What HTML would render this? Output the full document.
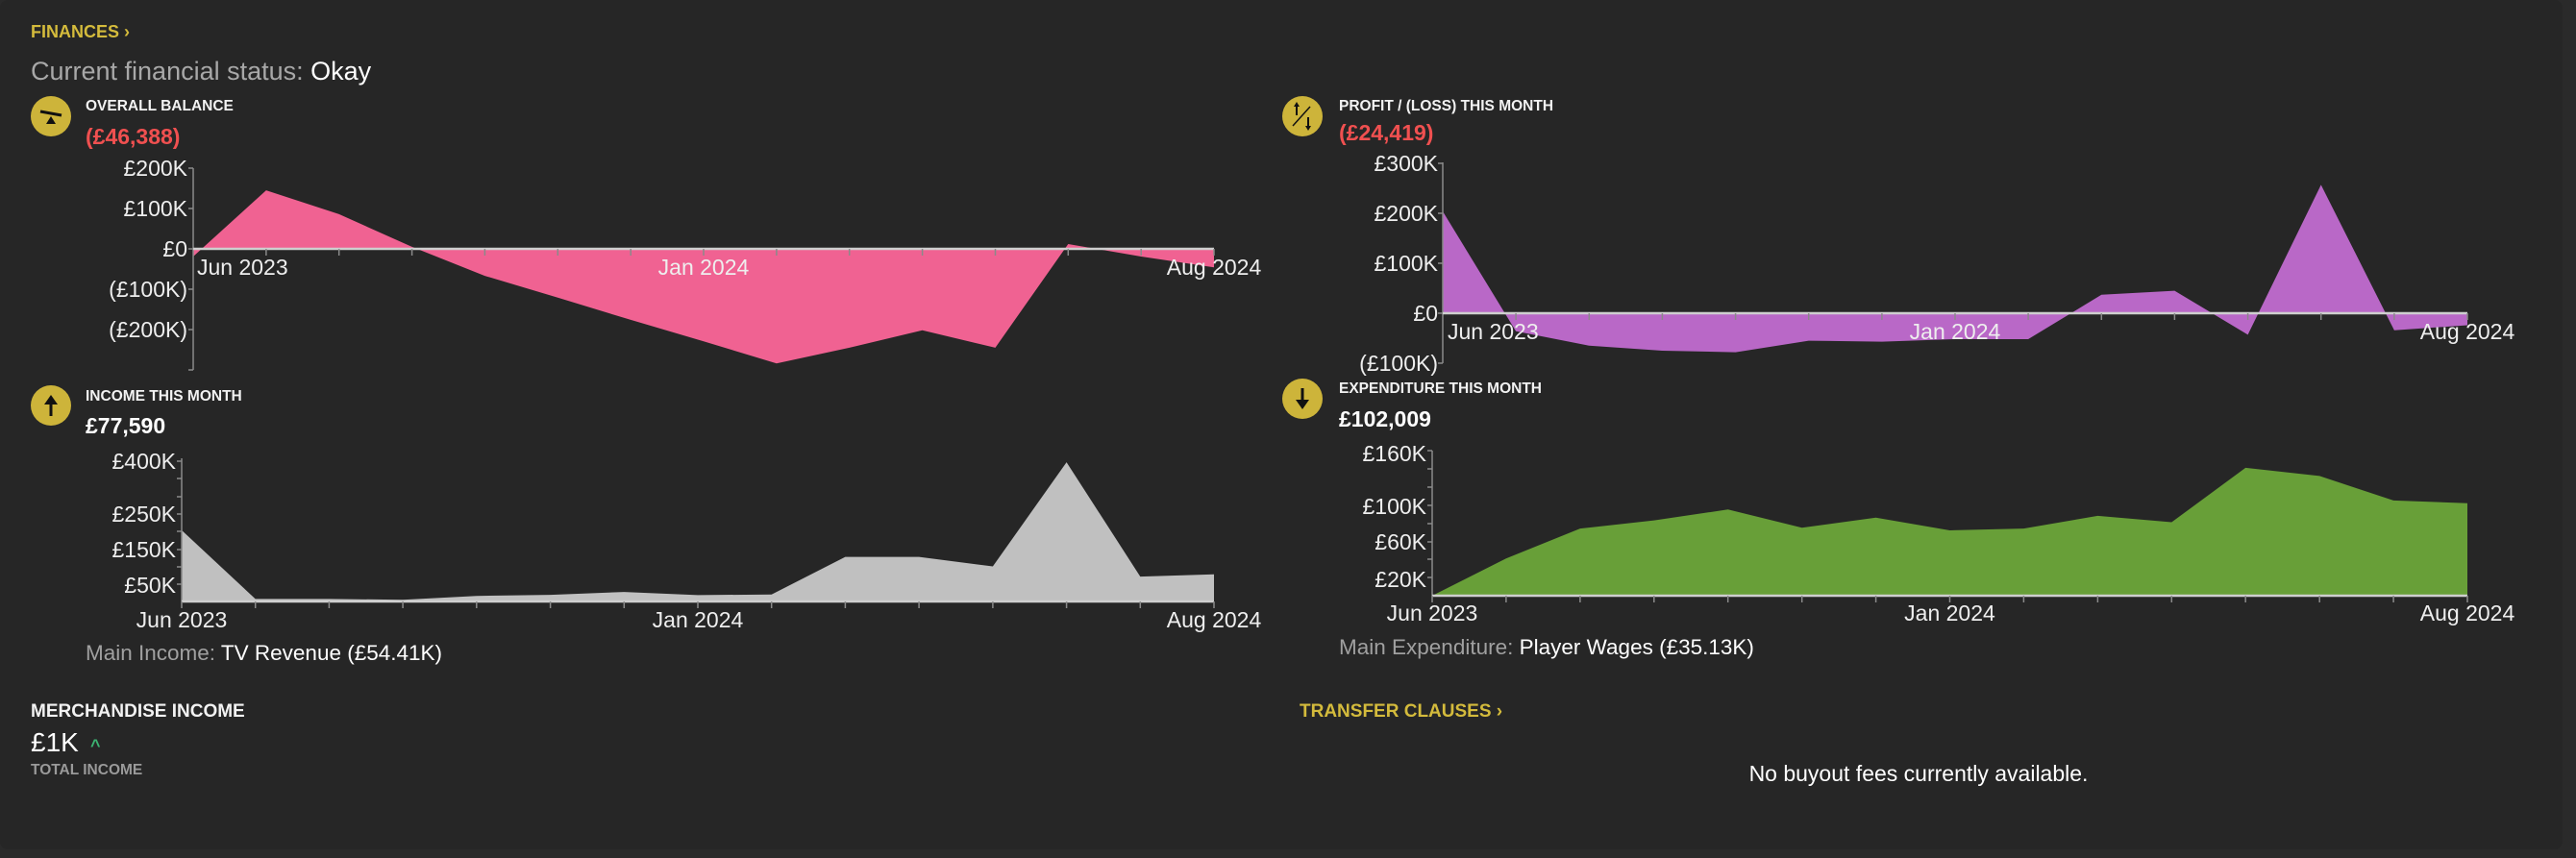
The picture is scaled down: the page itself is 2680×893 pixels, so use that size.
<!DOCTYPE html>
<html><head><meta charset="utf-8"><style>
html,body{margin:0;padding:0;background:#2a2a2a;width:2680px;height:893px;overflow:hidden}
svg{display:block}
text{font-family:"Liberation Sans",sans-serif}
.tk{fill:#eeeeee;font-size:23px}
.tt{fill:#f2f2f2;font-size:15.5px;font-weight:bold}
.ax{stroke:#8a8a8a;stroke-width:1.5;fill:none}
.zl{stroke:#cfcfcf;stroke-width:2.5}
</style></head><body>
<svg width="2680" height="893" viewBox="0 0 2680 893">
<rect x="0" y="0" width="2666" height="884" rx="8" fill="#262626"/>
<text x="32" y="39" fill="#d4bb3c" font-size="18" font-weight="bold">FINANCES ›</text>
<text x="32" y="83" font-size="27" fill="#a8a8a8">Current financial status: <tspan fill="#fff">Okay</tspan></text>

<!-- icons -->
<g fill="#cdb43a"><circle cx="53" cy="121" r="21"/><circle cx="1355" cy="121" r="21"/><circle cx="53" cy="422" r="21"/><circle cx="1355" cy="415" r="21"/></g>
<g stroke="#111" stroke-width="3" fill="#111">
<line x1="42" y1="116" x2="64" y2="120"/><polygon points="53,121 48,129 58,129" stroke="none"/>
<line x1="1345" y1="131" x2="1363" y2="111" stroke-width="1.5"/>
<line x1="1349" y1="110" x2="1349" y2="120" stroke-width="2"/><polygon points="1349,106 1346,111 1352,111" stroke="none"/>
<line x1="1361" y1="122" x2="1361" y2="132" stroke-width="2"/><polygon points="1361,136 1358,131 1364,131" stroke="none"/>
<line x1="53" y1="420" x2="53" y2="433"/><polygon points="53,411 46,421 60,421" stroke="none"/>
<line x1="1355" y1="404" x2="1355" y2="417"/><polygon points="1355,426 1348,416 1362,416" stroke="none"/>
</g>

<!-- OVERALL BALANCE -->
<text class="tt" x="89" y="115">OVERALL BALANCE</text>
<text x="89" y="150" fill="#f05050" font-size="23" font-weight="bold">(£46,388)</text>
<polygon fill="#f06292" points="201,259 201,267 276.9,198.1 352.7,222.9 428.6,256.9 504.4,287.1 580.3,309.8 656.2,332.9 732,355.2 807.9,378.3 883.7,361.9 959.6,343.8 1035.5,361.9 1111.3,254 1187.2,267 1263,278.3 1263,259"/>
<line class="ax" x1="201" y1="175" x2="201" y2="385"/>
<g class="ax"><path d="M196 175h5M196 217h5M196 259h5M196 301h5M196 343h5M196 385h5"/></g>
<line class="zl" x1="201" y1="259" x2="1263" y2="259"/>
<g class="ax"><path d="M276.9 259v7M352.7 259v7M428.6 259v7M504.4 259v7M580.3 259v7M656.2 259v7M732 259v7M807.9 259v7M883.7 259v7M959.6 259v7M1035.5 259v7M1111.3 259v7M1187.2 259v7M1263 259v7"/></g>
<g class="tk" text-anchor="end"><text x="195" y="183">£200K</text><text x="195" y="225">£100K</text><text x="195" y="267">£0</text><text x="195" y="309">(£100K)</text><text x="195" y="351">(£200K)</text></g>
<g class="tk"><text x="205" y="286">Jun 2023</text><text x="732" y="286" text-anchor="middle">Jan 2024</text><text x="1263" y="286" text-anchor="middle">Aug 2024</text></g>

<!-- PROFIT -->
<text class="tt" x="1393" y="115">PROFIT / (LOSS) THIS MONTH</text>
<text x="1393" y="146" fill="#f05050" font-size="23" font-weight="bold">(£24,419)</text>
<polygon fill="#b968c7" points="1501,326 1501,220 1577.1,344.7 1653.3,359.8 1729.4,365 1805.6,366.6 1881.7,354.6 1957.9,355.6 2034,353 2110.1,353 2186.3,306.8 2262.4,302.6 2338.6,348.4 2414.7,192.4 2490.9,343.7 2567,338.5 2567,326"/>
<line class="ax" x1="1501" y1="169" x2="1501" y2="378"/>
<g class="ax"><path d="M1496 170h5M1496 222h5M1496 274h5M1496 326h5M1496 378h5"/></g>
<line class="zl" x1="1501" y1="326" x2="2567" y2="326"/>
<g class="ax"><path d="M1577.1 326v7M1653.3 326v7M1729.4 326v7M1805.6 326v7M1881.7 326v7M1957.9 326v7M2034 326v7M2110.1 326v7M2186.3 326v7M2262.4 326v7M2338.6 326v7M2414.7 326v7M2490.9 326v7M2567 326v7"/></g>
<g class="tk" text-anchor="end"><text x="1496" y="178">£300K</text><text x="1496" y="230">£200K</text><text x="1496" y="282">£100K</text><text x="1496" y="334">£0</text><text x="1496" y="386">(£100K)</text></g>
<g class="tk"><text x="1506" y="353">Jun 2023</text><text x="2034" y="353" text-anchor="middle">Jan 2024</text><text x="2567" y="353" text-anchor="middle">Aug 2024</text></g>

<!-- INCOME -->
<text class="tt" x="89" y="417">INCOME THIS MONTH</text>
<text x="89" y="451" fill="#fff" font-size="23" font-weight="bold">£77,590</text>
<polygon fill="#c0c0c0" points="189,626 189,551.9 265.7,623.4 342.4,623.4 419.1,624.2 495.8,620.2 572.6,619.1 649.3,616.1 726,619.4 802.7,618.7 879.4,579.6 956.1,579.6 1032.9,589.5 1109.6,481.1 1186.3,600.1 1263,597.7 1263,626"/>
<line class="ax" x1="189" y1="477" x2="189" y2="626"/>
<g class="ax"><path d="M184 480h5M184 498h5M184 517h5M184 535h5M184 553h5M184 572h5M184 590h5M184 608h5"/></g>
<line class="zl" x1="189" y1="626" x2="1263" y2="626"/>
<g class="ax"><path d="M189 626v7M265.7 626v7M342.4 626v7M419.1 626v7M495.8 626v7M572.6 626v7M649.3 626v7M726 626v7M802.7 626v7M879.4 626v7M956.1 626v7M1032.9 626v7M1109.6 626v7M1186.3 626v7M1263 626v7"/></g>
<g class="tk" text-anchor="end"><text x="183" y="488">£400K</text><text x="183" y="543">£250K</text><text x="183" y="580">£150K</text><text x="183" y="617">£50K</text></g>
<g class="tk" text-anchor="middle"><text x="189" y="653">Jun 2023</text><text x="726" y="653">Jan 2024</text><text x="1263" y="653">Aug 2024</text></g>
<text x="89" y="687" font-size="22.5" fill="#a0a0a0">Main Income: <tspan fill="#fff">TV Revenue (£54.41K)</tspan></text>

<!-- EXPENDITURE -->
<text class="tt" x="1393" y="409">EXPENDITURE THIS MONTH</text>
<text x="1393" y="444" fill="#fff" font-size="23" font-weight="bold">£102,009</text>
<polygon fill="#689f38" points="1490,620 1566.9,581.3 1643.9,550.1 1720.8,541.6 1797.7,530.3 1874.7,549.2 1951.6,538.8 2028.5,552 2105.4,550.1 2182.4,536.9 2259.3,543.5 2336.2,486.9 2413.2,495.4 2490.1,520.9 2567,523.7 2567,620"/>
<line class="ax" x1="1490" y1="469" x2="1490" y2="620"/>
<g class="ax"><path d="M1485 469h5M1485 488h5M1485 507h5M1485 526h5M1485 545h5M1485 564h5M1485 582h5M1485 601h5"/></g>
<line class="zl" x1="1490" y1="620" x2="2567" y2="620" stroke="#cfe0c0"/>
<g class="ax"><path d="M1490 620v7M1566.9 620v7M1643.9 620v7M1720.8 620v7M1797.7 620v7M1874.7 620v7M1951.6 620v7M2028.5 620v7M2105.4 620v7M2182.4 620v7M2259.3 620v7M2336.2 620v7M2413.2 620v7M2490.1 620v7M2567 620v7"/></g>
<g class="tk" text-anchor="end"><text x="1484" y="480">£160K</text><text x="1484" y="535">£100K</text><text x="1484" y="572">£60K</text><text x="1484" y="611">£20K</text></g>
<g class="tk" text-anchor="middle"><text x="1490" y="646">Jun 2023</text><text x="2028.5" y="646">Jan 2024</text><text x="2567" y="646">Aug 2024</text></g>
<text x="1393" y="681" font-size="22.5" fill="#a0a0a0">Main Expenditure: <tspan fill="#fff">Player Wages (£35.13K)</tspan></text>

<!-- bottom -->
<text x="32" y="746" fill="#f2f2f2" font-size="19" font-weight="bold">MERCHANDISE INCOME</text>
<text x="32" y="782" fill="#fff" font-size="28">£1K</text>
<text x="94" y="782" fill="#3cb371" font-size="18" font-weight="bold">^</text>
<text x="32" y="806" fill="#9a9a9a" font-size="15.5" font-weight="bold">TOTAL INCOME</text>
<text x="1352" y="746" fill="#d4bb3c" font-size="19" font-weight="bold">TRANSFER CLAUSES ›</text>
<text x="1996" y="813" fill="#fff" font-size="23" text-anchor="middle">No buyout fees currently available.</text>
</svg>
</body></html>
